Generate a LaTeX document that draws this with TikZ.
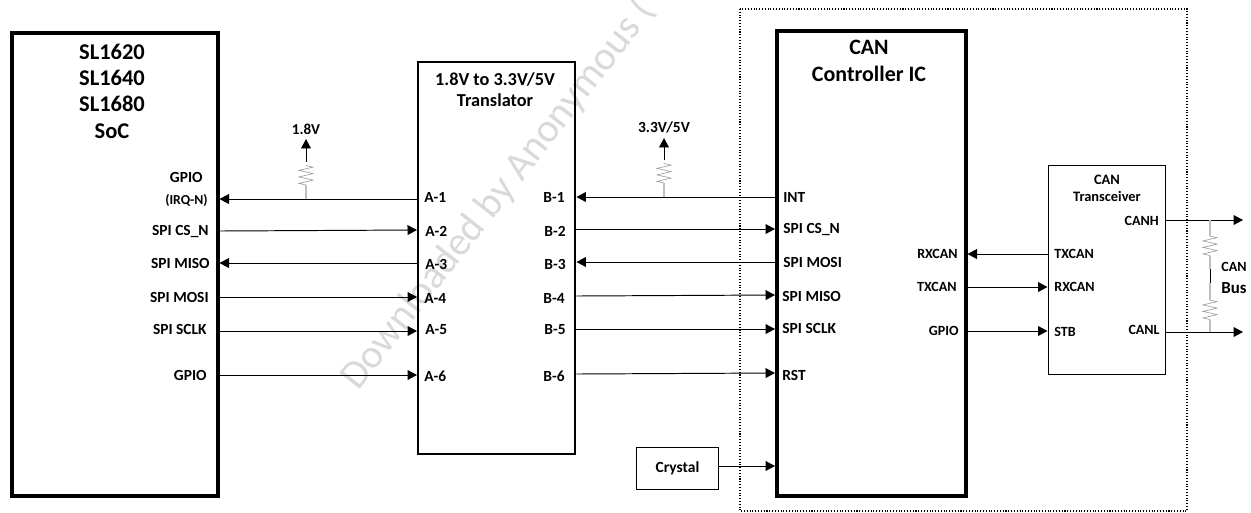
\documentclass[tikz,border=0pt]{standalone}
\usepackage{fontspec}
\setmainfont{Carlito}
\usetikzlibrary{arrows.meta,decorations.pathmorphing}

\tikzset{
  chipbox/.style={draw, line width=2pt, inner sep=0pt, anchor=north west},
  midbox/.style={draw, line width=1.4pt, inner sep=0pt, anchor=north west},
  thinbox/.style={draw, line width=0.6pt, inner sep=0pt, anchor=north west},
  pinlabel/.style={font=\fontsize{8.8}{10}\bfseries\selectfont, inner sep=0pt},
  sidelabel/.style={font=\fontsize{8}{10}\bfseries\selectfont, inner sep=0pt},
  titlelabel/.style={align=center, inner sep=0pt},
  wire/.style={line width=0.55pt, -{Triangle[length=5.4pt,width=5.6pt]}},
  plain/.style={line width=0.55pt},
  pullwire/.style={line width=0.7pt, black!25},
  resistor/.style={line width=0.35pt, black!40, decorate, decoration={zigzag, amplitude=4pt, segment length=3.7pt}},
  markfont/.style={font=\fontsize{23}{26}\selectfont, text=black!15, rotate=52, inner sep=0pt}
}

\begin{document}
\begin{tikzpicture}[x=0.02cm, y=-0.02cm]
\useasboundingbox (0,0) rectangle (1251,512);

\node [markfont, anchor=base west] (mark) at (358,392) {Downloaded by Anonymous (};

\draw [line width=0.6pt, densely dotted] (740,9) rectangle (1187,511);

\node [chipbox, minimum width=206*0.02cm, minimum height=463*0.02cm] (soc) at (10,31) {};
\node [midbox, minimum width=157*0.02cm, minimum height=392*0.02cm] (xlat) at (417,61) {};
\node [chipbox, minimum width=189*0.02cm, minimum height=465*0.02cm] (ctrl) at (775,29) {};
\node [thinbox, minimum width=117.5*0.02cm, minimum height=209*0.02cm] (xcvr) at (1047.5,165) {};
\node [thinbox, minimum width=82*0.02cm, minimum height=42*0.02cm, pinlabel] (crystal) at (636,447) {Crystal};

\node [titlelabel, font=\fontsize{12.8}{15}\bfseries\selectfont] (soct) at (112,91) {SL1620\\SL1640\\SL1680\\SoC};
\node [titlelabel, font=\fontsize{10.4}{12.2}\bfseries\selectfont] (xlatt) at (495,89.5) {1.8V to 3.3V/5V\\Translator};
\node [titlelabel, font=\fontsize{12.5}{15}\bfseries\selectfont] (ctrlt) at (869,61) {CAN\\Controller IC};
\node [titlelabel, font=\fontsize{8.2}{9.7}\bfseries\selectfont] (xcvrt) at (1107,188.5) {CAN\\Transceiver};

% soc pins
\node [pinlabel, anchor=east] (sgpio) at (203,177) {GPIO};
\node [pinlabel, anchor=east, font=\fontsize{7.8}{9}\bfseries\selectfont] (sirq) at (208,200) {(IRQ-N)};
\node [pinlabel, anchor=east] (scs) at (209,231) {SPI CS\_N};
\node [pinlabel, anchor=east] (smiso) at (210,263) {SPI MISO};
\node [pinlabel, anchor=east] (smosi) at (209,297) {SPI MOSI};
\node [pinlabel, anchor=east] (ssclk) at (207,329) {SPI SCLK};
\node [pinlabel, anchor=east] (sgp) at (207,375) {GPIO};

% translator pins
\node [pinlabel, anchor=west] (a1) at (424,197) {A-1};
\node [pinlabel, anchor=west] (a2) at (425,231) {A-2};
\node [pinlabel, anchor=west] (a3) at (425,264) {A-3};
\node [pinlabel, anchor=west] (a4) at (424,298) {A-4};
\node [pinlabel, anchor=west] (a5) at (425,330) {A-5};
\node [pinlabel, anchor=west] (a6) at (424,376) {A-6};
\node [pinlabel, anchor=east] (b1) at (565,197) {B-1};
\node [pinlabel, anchor=east] (b2) at (566,231) {B-2};
\node [pinlabel, anchor=east] (b3) at (566,264) {B-3};
\node [pinlabel, anchor=east] (b4) at (565,298) {B-4};
\node [pinlabel, anchor=east] (b5) at (566,330) {B-5};
\node [pinlabel, anchor=east] (b6) at (565,376) {B-6};

% controller pins
\node [pinlabel, anchor=west] (cint) at (783,197) {INT};
\node [pinlabel, anchor=west] (ccs) at (783,229) {SPI CS\_N};
\node [pinlabel, anchor=west] (cmosi) at (783,262) {SPI MOSI};
\node [pinlabel, anchor=west] (cmiso) at (782,296) {SPI MISO};
\node [pinlabel, anchor=west] (csclk) at (782,328) {SPI SCLK};
\node [pinlabel, anchor=west] (crst) at (782,375) {RST};
\node [sidelabel, anchor=east] (crx) at (958,254) {RXCAN};
\node [sidelabel, anchor=east] (ctx) at (957,287) {TXCAN};
\node [sidelabel, anchor=east] (cgp) at (959,331) {GPIO};

% transceiver pins
\node [sidelabel, anchor=west] (ttx) at (1054,254) {TXCAN};
\node [sidelabel, anchor=west] (trx) at (1054,287) {RXCAN};
\node [sidelabel, anchor=west] (tstb) at (1054,332) {STB};
\node [sidelabel, anchor=east] (tcanh) at (1159,221) {CANH};
\node [sidelabel, anchor=east] (tcanl) at (1160,330) {CANL};

\node [pinlabel, font=\fontsize{8.6}{10}\bfseries\selectfont] (v18) at (306,129) {1.8V};
\node [pinlabel] (v33) at (664,127) {3.3V/5V};
\node [sidelabel] (buscan) at (1234,267) {CAN};
\node [pinlabel, font=\fontsize{9.6}{11}\bfseries\selectfont] (busbus) at (1234,288) {Bus};

% free ends
\coordinate (hend) at (1243,220);
\coordinate (lend) at (1243,332);
\coordinate (cin) at (775,466);

\begin{scope}[wire]
\draw (xlat.west |- 0,199) -- (soc.east |- 0,199); %a1-gpio
\draw (soc.east |- 0,231) -- (xlat.west |- 0,230); %cs
\draw (xlat.west |- 0,263) -- (soc.east |- 0,263); %miso
\draw (soc.east |- 0,297) -- (xlat.west |- 0,297); %mosi
\draw (soc.east |- 0,331) -- (xlat.west |- 0,331); %sclk
\draw (soc.east |- 0,375) -- (xlat.west |- 0,375); %gpio
\draw (ctrl.west |- 0,197) -- (xlat.east |- 0,197); %int
\draw (xlat.east |- 0,229) -- (ctrl.west |- 0,229); %cs
\draw (ctrl.west |- 0,262) -- (xlat.east |- 0,262); %mosi
\draw (xlat.east |- 0,296) -- (ctrl.west |- 0,295); %miso
\draw (xlat.east |- 0,329) -- (ctrl.west |- 0,329); %sclk
\draw (xlat.east |- 0,374) -- (ctrl.west |- 0,373); %rst
\draw (crystal.east |- cin) -- (cin); %crystal
\draw (xcvr.west |- 0,254) -- (ctrl.east |- 0,254); %txcan
\draw (ctrl.east |- 0,287) -- (xcvr.west |- 0,287); %rxcan
\draw (ctrl.east |- 0,331) -- (xcvr.west |- 0,331); %stb
\draw (xcvr.east |- hend) -- (hend); %canh
\draw (xcvr.east |- lend) -- (lend); %canl
\end{scope}

% pull ups
\coordinate (ra1) at (306,165);
\coordinate (ra2) at (306,185);
\coordinate (rb1) at (664,163);
\coordinate (rb2) at (664,183);
\coordinate (rc1) at (1210,236);
\coordinate (rc2) at (1210,256);
\coordinate (rd1) at (1210,300);
\coordinate (rd2) at (1210,320);

\draw [resistor] (ra2) -- (ra1);
\draw [resistor] (rb2) -- (rb1);
\draw [resistor] (rc1) -- (rc2);
\draw [resistor] (rd1) -- (rd2);

\draw [pullwire] (ra2) -- (306,199);
\draw [pullwire] (rb2) -- (664,197);
\draw [pullwire] (1210,220) -- (rc1);
\draw [pullwire] (rc2) -- (1210,269);
\draw [pullwire] (1210,283) -- (rd1);
\draw [pullwire] (rd2) -- (1210,332);
\draw [plain] (1210,269) -- (1210,283);

\draw [wire] (ra1) ++(0,-3) -- (v18.south |- 0,139);
\draw [wire] (rb1) ++(0,-3) -- (v33.south |- 0,138);

\end{tikzpicture}
\end{document}
